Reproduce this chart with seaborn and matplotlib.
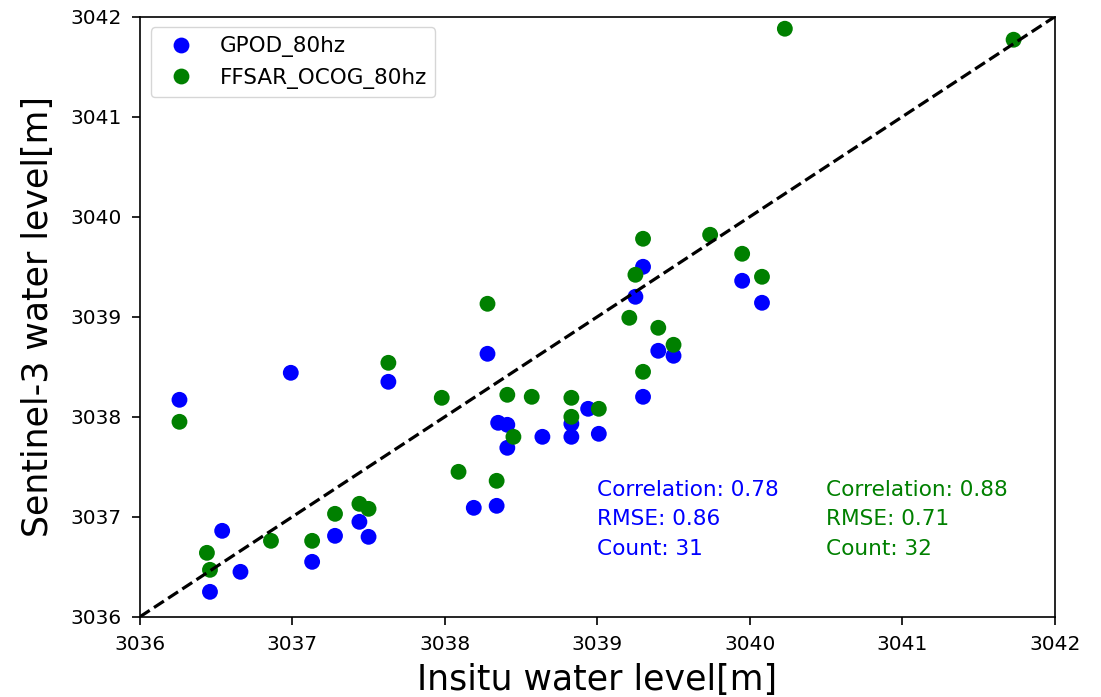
import matplotlib
matplotlib.use("Agg")
import matplotlib.pyplot as plt
import seaborn as sns
import pandas as pd

gpod_x = [3036.26, 3036.99, 3037.63, 3036.54, 3036.46, 3036.66, 3037.13, 3037.28, 3037.44, 3037.50,
          3038.28, 3038.83, 3038.83, 3038.94, 3039.01, 3038.35, 3038.41, 3038.41, 3038.64, 3038.19,
          3038.34, 3039.25, 3039.40, 3039.50, 3039.30, 3039.30, 3039.95, 3040.08]
gpod_y = [3038.17, 3038.44, 3038.35, 3036.86, 3036.25, 3036.45, 3036.55, 3036.81, 3036.95, 3036.80,
          3038.63, 3037.93, 3037.80, 3038.08, 3037.83, 3037.94, 3037.92, 3037.69, 3037.80, 3037.09,
          3037.11, 3039.20, 3038.66, 3038.61, 3038.20, 3039.50, 3039.36, 3039.14]

ffsar_x = [3036.26, 3037.63, 3037.98, 3036.44, 3036.46, 3036.86, 3037.13, 3037.28, 3037.44, 3037.50,
           3038.28, 3038.41, 3038.57, 3038.83, 3038.83, 3039.01, 3038.45, 3038.09, 3038.34, 3039.21,
           3039.40, 3039.50, 3039.30, 3039.30, 3039.25, 3039.74, 3039.95, 3040.08, 3040.23, 3041.73]
ffsar_y = [3037.95, 3038.54, 3038.19, 3036.64, 3036.47, 3036.76, 3036.76, 3037.03, 3037.13, 3037.08,
           3039.13, 3038.22, 3038.20, 3038.19, 3038.00, 3038.08, 3037.80, 3037.45, 3037.36, 3038.99,
           3038.89, 3038.72, 3038.45, 3039.78, 3039.42, 3039.82, 3039.63, 3039.40, 3041.88, 3041.77]

series_names = ["GPOD_80hz", "FFSAR_OCOG_80hz"]
series_colors = ["blue", "green"]
stats_gpod = ["Correlation: 0.78", "RMSE: 0.86", "Count: 31"]
stats_ffsar = ["Correlation: 0.88", "RMSE: 0.71", "Count: 32"]
ticks = [3036, 3037, 3038, 3039, 3040, 3041, 3042]

df = pd.concat([
    pd.DataFrame({"x": gpod_x, "y": gpod_y, "src": series_names[0]}),
    pd.DataFrame({"x": ffsar_x, "y": ffsar_y, "src": series_names[1]}),
])

fig = plt.figure(figsize=(11.01, 6.97), dpi=100)
ax = fig.add_axes([0.127, 0.115, 0.831, 0.861])
sns.scatterplot(data=df, x="x", y="y", hue="src", palette=series_colors,
                s=130, linewidth=0, ax=ax)
ax.plot([ticks[0], ticks[-1]], [ticks[0], ticks[-1]], "k--", lw=2.3)
ax.set_xlim(ticks[0], ticks[-1])
ax.set_ylim(ticks[0], ticks[-1])
ax.set_xticks(ticks)
ax.set_yticks(ticks)
ax.tick_params(labelsize=14.5, length=5.8, width=1.2, pad=7)
for sp in ax.spines.values():
    sp.set_linewidth(1.2)
ax.set_xlabel("Insitu water level[m]", fontsize=25, labelpad=7)
ax.set_ylabel("Sentinel-3 water level[m]", fontsize=25, labelpad=11)
leg = ax.legend(loc="upper left", fontsize=15.5)
leg.set_title(None)

line_y = [3037.27, 3036.975, 3036.68]
for txt, yy in zip(stats_gpod, line_y):
    ax.text(3039.0, yy, txt, color="blue", fontsize=15.6, va="center", ha="left")
for txt, yy in zip(stats_ffsar, line_y):
    ax.text(3040.5, yy, txt, color="green", fontsize=15.6, va="center", ha="left")

fig.savefig("out.png", dpi=100)
